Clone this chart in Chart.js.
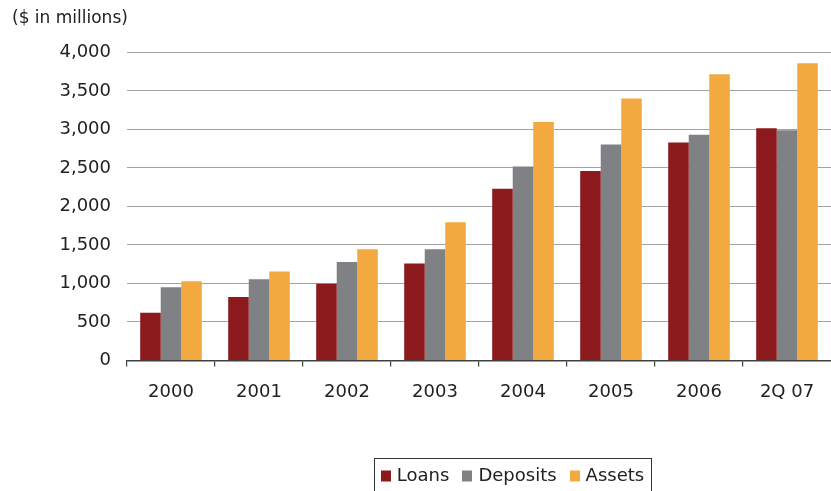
<!DOCTYPE html>
<html>
<head>
<meta charset="utf-8">
<script src="https://cdn.jsdelivr.net/npm/chart.js@4/dist/chart.umd.min.js"></script>
<style>
  html, body { margin: 0; padding: 0; background: #ffffff; }
  #wrap { width: 831px; height: 491px; position: relative; }
</style>
</head>
<body>
<div id="wrap"><canvas id="c" width="831" height="491"></canvas></div>
<script>
const categories = ['2000', '2001', '2002', '2003', '2004', '2005', '2006', '2Q 07'];
const loans    = [620, 825, 995, 1260, 2230, 2460, 2830, 3015];
const deposits = [950, 1055, 1280, 1445, 2520, 2805, 2930, 2990];
const assets   = [1030, 1155, 1445, 1795, 3095, 3400, 3715, 3860];
const seriesNames = ['Loans', 'Deposits', 'Assets'];
const seriesColors = ['#8c1a1d', '#808184', '#f2aa40'];
const yTicks = [0, 500, 1000, 1500, 2000, 2500, 3000, 3500, 4000];
const unitTitle = '($ in millions)';

const FONT = 'DejaVu Sans, Verdana, sans-serif';
const TEXT = '#222222';

const boxLegend = {
  id: 'boxLegend',
  afterDraw(chart) {
    const ctx = chart.ctx;
    ctx.save();
    ctx.font = '18px ' + FONT;
    const sq = 10, sqH = 11, gapText = 6, gapItem = 13, padX = 7;
    const items = chart.data.datasets.map(d => ({ label: d.label, color: d.backgroundColor, w: ctx.measureText(d.label).width }));
    let total = padX * 2;
    items.forEach((it, i) => { total += sq + gapText + it.w + (i < items.length - 1 ? gapItem : 0); });
    const cx = 512.5, top = 458, cy = 476;
    let x = cx - total / 2;
    ctx.strokeStyle = '#333333';
    ctx.lineWidth = 1;
    ctx.strokeRect(Math.round(x) + 0.5, top + 0.5, Math.round(total), 40);
    x += padX;
    ctx.textBaseline = 'middle';
    ctx.textAlign = 'left';
    items.forEach(it => {
      ctx.fillStyle = it.color;
      ctx.fillRect(Math.round(x), cy - sqH / 2, sq, sqH);
      x += sq + gapText;
      ctx.fillStyle = TEXT;
      ctx.fillText(it.label, x, cy);
      x += it.w + gapItem;
    });
    ctx.restore();
  }
};

new Chart(document.getElementById('c'), {
  type: 'bar',
  data: {
    labels: categories,
    datasets: [
      { label: seriesNames[0], data: loans, backgroundColor: seriesColors[0] },
      { label: seriesNames[1], data: deposits, backgroundColor: seriesColors[1] },
      { label: seriesNames[2], data: assets, backgroundColor: seriesColors[2] }
    ]
  },
  options: {
    responsive: false,
    animation: false,
    devicePixelRatio: 1,
    layout: { padding: { left: 12, right: 0, top: 0, bottom: 0 } },
    datasets: { bar: { categoryPercentage: 0.7, barPercentage: 1.0, borderWidth: 0 } },
    plugins: {
      legend: { display: false },
      tooltip: { enabled: false },
      title: {
        display: true,
        text: unitTitle,
        align: 'start',
        color: TEXT,
        font: { family: FONT, size: 17, weight: 'normal' },
        padding: { top: 8, bottom: 24 }
      }
    },
    scales: {
      x: {
        offset: true,
        border: { display: true, color: '#404040', width: 1.5 },
        grid: {
          display: true, offset: true, drawOnChartArea: false, drawTicks: true, tickLength: 6, lineWidth: 1.2,
          color: c => (c.type === 'tick' ? '#404040' : 'rgba(0,0,0,0)')
        },
        ticks: { color: TEXT, font: { family: FONT, size: 18 }, padding: 15, maxRotation: 0 },
        afterFit(scale) { scale.height = 130.5; }
      },
      y: {
        min: 0,
        max: 4000,
        border: { display: false },
        grid: { color: '#a3a3a3', lineWidth: 1, drawTicks: false },
        afterBuildTicks(scale) { scale.ticks = yTicks.map(v => ({ value: v })); },
        ticks: {
          color: TEXT,
          font: { family: FONT, size: 18 },
          padding: 16,
          callback: v => v.toLocaleString('en-US')
        },
        afterFit(scale) { scale.width = 115; }
      }
    }
  },
  plugins: [boxLegend]
});
</script>
</body>
</html>
